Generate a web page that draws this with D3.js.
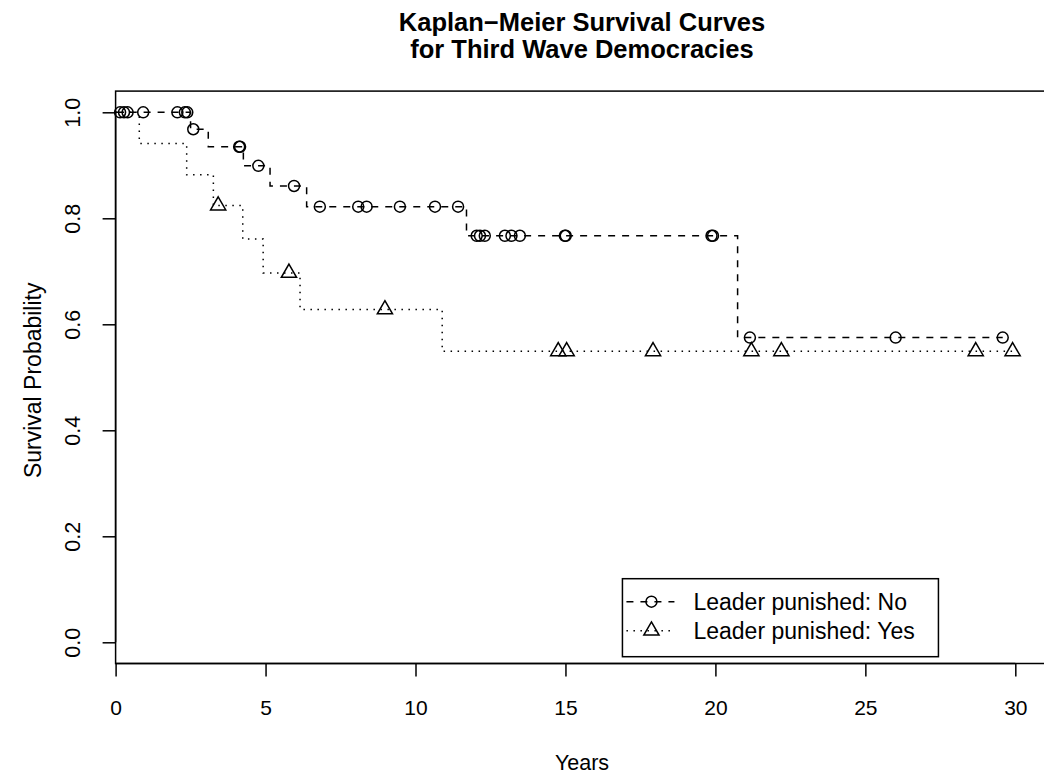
<!DOCTYPE html>
<html>
<head>
<meta charset="utf-8">
<script src="https://cdn.jsdelivr.net/npm/d3@7"></script>
<style>
  body { margin: 0; background: #fff; }
  text { font-family: "Liberation Sans", Arial, Helvetica, sans-serif; fill: #000; }
</style>
</head>
<body>
<script>
// Kaplan-Meier curves, values
var noEventTimes  = [2.5, 3.09, 4.26, 5.15, 6.37, 11.7, 20.74];
var noSurvival    = [0.968, 0.935, 0.899, 0.861, 0.822, 0.767, 0.575];
var noCensored    = [0.15, 0.28, 0.40, 0.92, 2.06, 2.31, 2.39, 2.59, 4.12, 4.15, 4.76, 5.95,
                     6.81, 8.09, 8.37, 9.48, 10.65, 11.42, 12.04, 12.15, 12.31, 12.98, 13.2,
                     13.48, 14.98, 15.01, 19.87, 19.92, 21.15, 26.01, 29.58];

var yesEventTimes = [0.79, 2.37, 3.26, 4.24, 4.92, 6.15, 10.89];
var yesSurvival   = [0.941, 0.882, 0.824, 0.761, 0.697, 0.628, 0.549];
var yesCensored   = [3.42, 5.78, 8.98, 14.76, 15.04, 17.92, 21.2, 22.2, 28.68, 29.91];

var xTicks = [0, 5, 10, 15, 20, 25, 30];
var yTicks = [0, 0.2, 0.4, 0.6, 0.8, 1.0];
var legendLabels = ["Leader punished: No", "Leader punished: Yes"];

var w = 1044, h = 780;
var svg = d3.select("body").append("svg").attr("width", w).attr("height", h);

var x = d3.scaleLinear().domain([0, 31.11]).range([115.6, 1048.6]);
var y = d3.scaleLinear().domain([-0.04, 1.04]).range([663.5, 91.1]);

// plot box (runs off the right edge like the original)
svg.append("rect")
  .attr("x", x(0)).attr("y", y(1.04))
  .attr("width", x(31.11) - x(0)).attr("height", y(-0.04) - y(1.04))
  .attr("fill", "none").attr("stroke", "#000").attr("stroke-width", 1.5);

// x axis
var xAxis = svg.append("g")
  .attr("transform", "translate(0," + y(-0.04) + ")")
  .call(d3.axisBottom(x).tickValues(xTicks).tickSize(13).tickPadding(23.6).tickFormat(d3.format("d")));
xAxis.select(".domain").remove();
xAxis.append("line").attr("x1", x(0)).attr("x2", x(30)).attr("stroke", "#000").attr("stroke-width", 1.5);
xAxis.selectAll("line").attr("stroke-width", 1.5);
xAxis.selectAll("text").attr("font-size", 21).style("font-family", '"Liberation Sans", Arial, sans-serif');

// y axis, labels turned like R does
var yAxis = svg.append("g")
  .attr("transform", "translate(" + x(0) + ",0)")
  .call(d3.axisLeft(y).tickValues(yTicks).tickSize(13).tickFormat(d3.format(".1f")));
yAxis.select(".domain").remove();
yAxis.append("line").attr("y1", y(0)).attr("y2", y(1)).attr("stroke", "#000").attr("stroke-width", 1.5);
yAxis.selectAll("line").attr("stroke-width", 1.5);
yAxis.selectAll("text")
  .attr("x", null).attr("dy", null)
  .attr("transform", "translate(-35.6,0) rotate(-90)")
  .attr("text-anchor", "middle")
  .attr("font-size", 21.5).style("font-family", '"Liberation Sans", Arial, sans-serif');

// titles
svg.append("text").attr("x", 582).attr("y", 31).attr("text-anchor", "middle")
  .attr("font-size", 25.5).attr("font-weight", "bold").text("Kaplan\u2212Meier Survival Curves");
svg.append("text").attr("x", 582).attr("y", 58).attr("text-anchor", "middle")
  .attr("font-size", 25.5).attr("font-weight", "bold").text("for Third Wave Democracies");
svg.append("text").attr("x", 582).attr("y", 770).attr("text-anchor", "middle")
  .attr("font-size", 21.5).text("Years");
svg.append("text").attr("transform", "translate(41," + (y(0.5) + 3) + ") rotate(-90)")
  .attr("text-anchor", "middle").attr("font-size", 23).text("Survival Probability");

// curves
function stepPoints(times, surv, censored) {
  var pts = [[0, 1]];
  times.forEach(function(t, i) { pts.push([t, surv[i]]); });
  pts.push([d3.max(censored), surv[surv.length - 1]]);
  return pts;
}
function survAt(times, surv, t) {
  var s = 1;
  times.forEach(function(e, i) { if (e <= t) s = surv[i]; });
  return s;
}
var line = d3.line()
  .x(function(d) { return x(d[0]); })
  .y(function(d) { return y(d[1]); })
  .curve(d3.curveStepAfter);

var groups = [
  {times: noEventTimes, surv: noSurvival, cens: noCensored, dash: "7,7", shape: d3.symbolCircle, size: 95},
  {times: yesEventTimes, surv: yesSurvival, cens: yesCensored, dash: "1.5,5.5", shape: d3.symbolTriangle, size: 100}
];

groups.forEach(function(g) {
  svg.append("path")
    .attr("d", line(stepPoints(g.times, g.surv, g.cens)))
    .attr("fill", "none").attr("stroke", "#000").attr("stroke-width", 1.5)
    .attr("stroke-dasharray", g.dash);
  svg.selectAll(null)
    .data(g.cens)
    .enter()
    .append("path")
    .attr("d", d3.symbol().type(g.shape).size(g.size))
    .attr("transform", function(t) {
      return "translate(" + x(t) + "," + y(survAt(g.times, g.surv, t)) + ")";
    })
    .attr("fill", "none").attr("stroke", "#000").attr("stroke-width", 1.5);
});

// legend
var lg = svg.append("g").attr("transform", "translate(" + (x(17) - 3) + "," + y(0.12) + ")");
lg.append("rect").attr("width", 316).attr("height", 78)
  .attr("fill", "#fff").attr("stroke", "#000").attr("stroke-width", 1.5);
groups.forEach(function(g, i) {
  var cy = 23 + i * 29;
  lg.append("line").attr("x1", 4).attr("x2", 52).attr("y1", cy).attr("y2", cy)
    .attr("stroke", "#000").attr("stroke-width", 1.5).attr("stroke-dasharray", g.dash);
  lg.append("path").attr("d", d3.symbol().type(g.shape).size(g.size))
    .attr("transform", "translate(29," + cy + ")")
    .attr("fill", "none").attr("stroke", "#000").attr("stroke-width", 1.5);
  lg.append("text").attr("x", 71).attr("y", cy + 8).attr("font-size", 23).text(legendLabels[i]);
});
</script>
</body>
</html>
